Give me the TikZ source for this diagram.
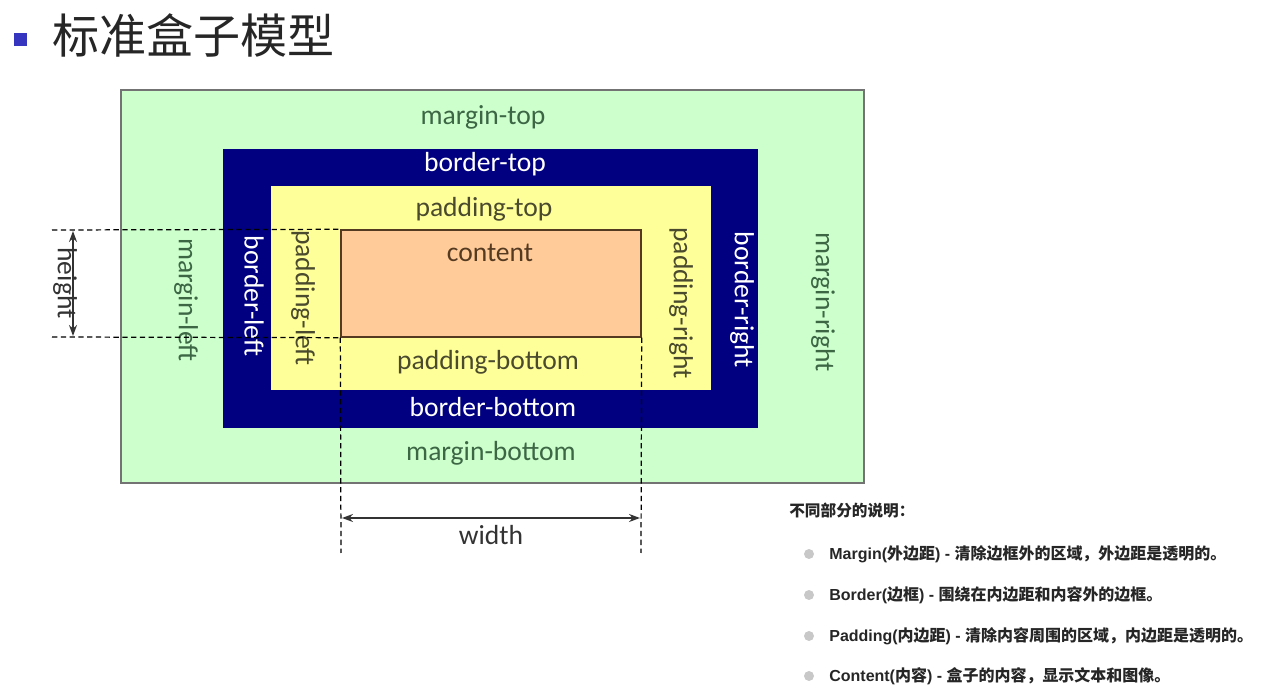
\documentclass[tikz,border=0pt]{standalone}
\usepackage{fontspec}
\setmainfont{Carlito}
\newfontfamily\cjk{Noto Sans CJK SC}
\newfontfamily\arialfont{Liberation Sans}
\usetikzlibrary{arrows.meta, positioning}
\definecolor{cmargin}{HTML}{CCFFCC}
\definecolor{cborder}{HTML}{000080}
\definecolor{cpadding}{HTML}{FFFF99}
\definecolor{ccontent}{HTML}{FFCC99}
\definecolor{cmtext}{HTML}{3D6645}
\definecolor{cptext}{HTML}{4A4A2E}
\definecolor{cctext}{HTML}{553A22}
\definecolor{cgrey}{HTML}{333333}
\definecolor{cbullet}{HTML}{C8C8C8}
\definecolor{ctitle}{HTML}{3535C0}
\tikzset{
  every picture/.style={x=0.02cm, y=-0.02cm},
  box/.style={fill=#1, inner sep=0pt, line width=0.8pt},
  lab/.style={font=\fontsize{15.7}{18}\selectfont, inner sep=0pt, text=#1},
  vlab/.style={lab=#1, rotate=-90},
  guide/.style={draw=black, line width=0.7pt, dash pattern=on 3pt off 2pt},
  dim/.style={{Stealth[length=2.2mm, width=1.6mm]}-{Stealth[length=2.2mm, width=1.6mm]}, draw=cgrey, line width=0.9pt},
  bullet/.style={circle, fill=cbullet, inner sep=0pt, minimum size=0.2cm},
  item/.style={font=\fontsize{9.1}{11}\selectfont\bfseries, text=black!85, anchor=west, inner sep=0pt},
}
\newcommand\descline[3]{{\arialfont\bfseries #1(}{\cjk\bfseries #2}{\arialfont\bfseries ) - }{\cjk\bfseries #3}}

\begin{document}
\begin{tikzpicture}
  \useasboundingbox (0,0) rectangle (1268,695);
  % title
  \node[fill=ctitle, inner sep=0pt, minimum size=0.26cm] (mark) at (20.5,39.5) {};
  \node[anchor=west, inner sep=0pt, font=\cjk\fontsize{26.8}{30}\selectfont, text=black!85] (title) at (52,35) {标准盒子模型};
  % nested boxes, outside in
  \node[box=cmargin, draw=black!55, minimum width=14.86cm, minimum height=7.86cm] (margin) at (492.5,286.5) {};
  \node[box=cborder, minimum width=10.7cm, minimum height=5.58cm] (border) at (490.5,288.5) {};
  \node[box=cpadding, minimum width=8.8cm, minimum height=4.08cm] (padding) at (491,288) {};
  \node[box=ccontent, draw=cctext, minimum width=6cm, minimum height=2.14cm] (content) at (491,283.5) {};
  % labels
  \node[lab=cmtext] (mtop) at (483,117) {margin-top};
  \node[lab=white] (btop) at (485,164) {border-top};
  \node[lab=cptext] (ptop) at (484,209) {padding-top};
  \node[lab=cctext] (ctext) at (490,253) {content};
  \node[lab=cptext] (pbot) at (488,362) {padding-bottom};
  \node[lab=white] (bbot) at (493,407) {border-bottom};
  \node[lab=cmtext] (mbot) at (491,453) {margin-bottom};
  \node[vlab=cmtext] (mleft) at (186,300) {margin-left};
  \node[vlab=white] (bleft) at (254,296) {border-left};
  \node[vlab=cptext] (pleft) at (303,298) {padding-left};
  \node[vlab=cptext] (pright) at (681,303) {padding-right};
  \node[vlab=white] (bright) at (742,300) {border-right};
  \node[vlab=cmtext] (mright) at (823,302) {margin-right};
  % guide lines and dimensions
  \coordinate (gtop) at (52,230);
  \coordinate (gbot) at (52,337);
  \coordinate (gleft) at (341,553);
  \coordinate (gright) at (641,553);
  \draw[guide] (gtop) -- (content.north west);
  \draw[guide] (gbot) -- (content.south west);
  \draw[guide] (content.south west) -- (gleft);
  \draw[guide] (content.south east) -- (gright);
  \coordinate (h1) at (73,231);
  \coordinate (h2) at (73,336);
  \draw[dim] (h1) -- (h2);
  \node[vlab=cgrey] (hlab) at (65,283) {height};
  \coordinate (w1) at (342,518);
  \coordinate (w2) at (640,518);
  \draw[dim] (w1) -- (w2);
  \node[lab=cgrey] (wlab) at (491,535) {width};
  % description
  \node[item, font=\cjk\bfseries\fontsize{8.9}{11}\selectfont] (head) at (789,511) {不同部分的说明：};
  \node[bullet] (b1) at (809,554) {};
  \node[bullet] (b2) at (809,595) {};
  \node[bullet] (b3) at (809,636) {};
  \node[bullet] (b4) at (809,676) {};
  \node[item] (d1) at (829,554) {\descline{Margin}{外边距}{清除边框外的区域，外边距是透明的。}};
  \node[item] (d2) at (829,595) {\descline{Border}{边框}{围绕在内边距和内容外的边框。}};
  \node[item] (d3) at (829,636) {\descline{Padding}{内边距}{清除内容周围的区域，内边距是透明的。}};
  \node[item] (d4) at (829,676) {\descline{Content}{内容}{盒子的内容，显示文本和图像。}};
\end{tikzpicture}
\end{document}
